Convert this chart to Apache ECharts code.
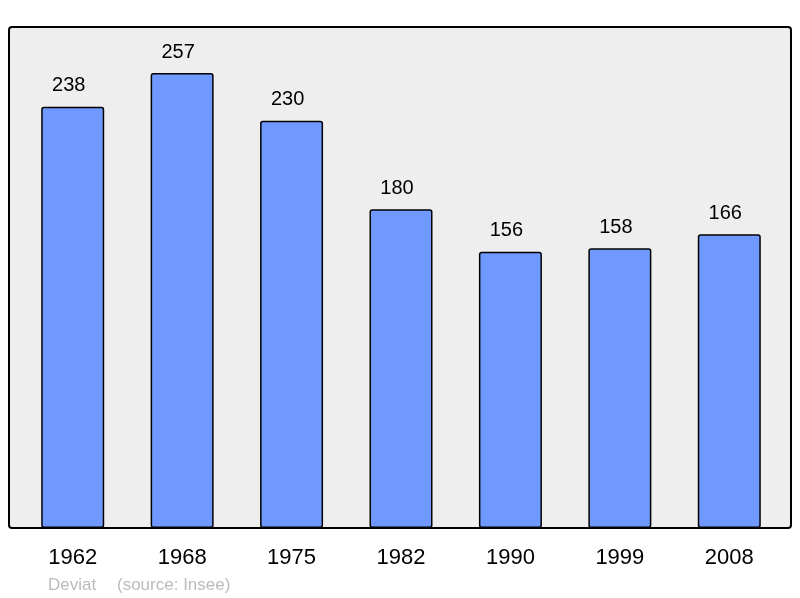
<!DOCTYPE html>
<html>
<head>
<meta charset="utf-8">
<script src="https://cdn.jsdelivr.net/npm/echarts@6/dist/echarts.min.js"></script>
<style>
  html, body { margin: 0; padding: 0; background: #fff; }
</style>
</head>
<body>
<div id="chart" style="width: 800px; height: 598px;"></div>
<script>
const years = ['1962', '1968', '1975', '1982', '1990', '1999', '2008'];
const population = [238, 257, 230, 180, 156, 158, 166];

const myChart = echarts.init(document.getElementById('chart'));

const option = {
  animation: false,
  backgroundColor: '#ffffff',
  graphic: [
    {
      type: 'rect',
      z: -10,
      shape: { x: 9, y: 27, width: 782, height: 501, r: 3 },
      style: { fill: '#eeeeee', stroke: '#000000', lineWidth: 2 }
    },
    {
      type: 'text',
      left: 48,
      top: 577,
      style: {
        text: 'Deviat',
        fill: '#bbbbbb',
        font: '17px "Liberation Sans", Arial, sans-serif'
      }
    },
    {
      type: 'text',
      left: 117,
      top: 577,
      style: {
        text: '(source: Insee)',
        fill: '#bbbbbb',
        font: '17px "Liberation Sans", Arial, sans-serif'
      }
    }
  ],
  grid: {
    left: 18,
    width: 766,
    top: 27,
    height: 501
  },
  xAxis: {
    type: 'category',
    data: years,
    axisLine: { show: false },
    axisTick: { show: false },
    axisLabel: {
      margin: 19,
      fontSize: 22,
      color: '#000',
      fontFamily: '"Liberation Sans", Arial, sans-serif'
    }
  },
  yAxis: {
    type: 'value',
    min: 0,
    max: 283,
    show: false,
    splitLine: { show: false }
  },
  series: [
    {
      type: 'bar',
      data: population,
      barWidth: 63,
      itemStyle: {
        color: '#7099ff',
        borderColor: '#000000',
        borderWidth: 1.5,
        borderRadius: 2
      },
      label: {
        show: true,
        position: 'top',
        distance: 11,
        offset: [-4, 0],
        fontSize: 20,
        color: '#000',
        fontFamily: '"Liberation Sans", Arial, sans-serif'
      }
    }
  ]
};

myChart.setOption(option);
</script>
</body>
</html>
